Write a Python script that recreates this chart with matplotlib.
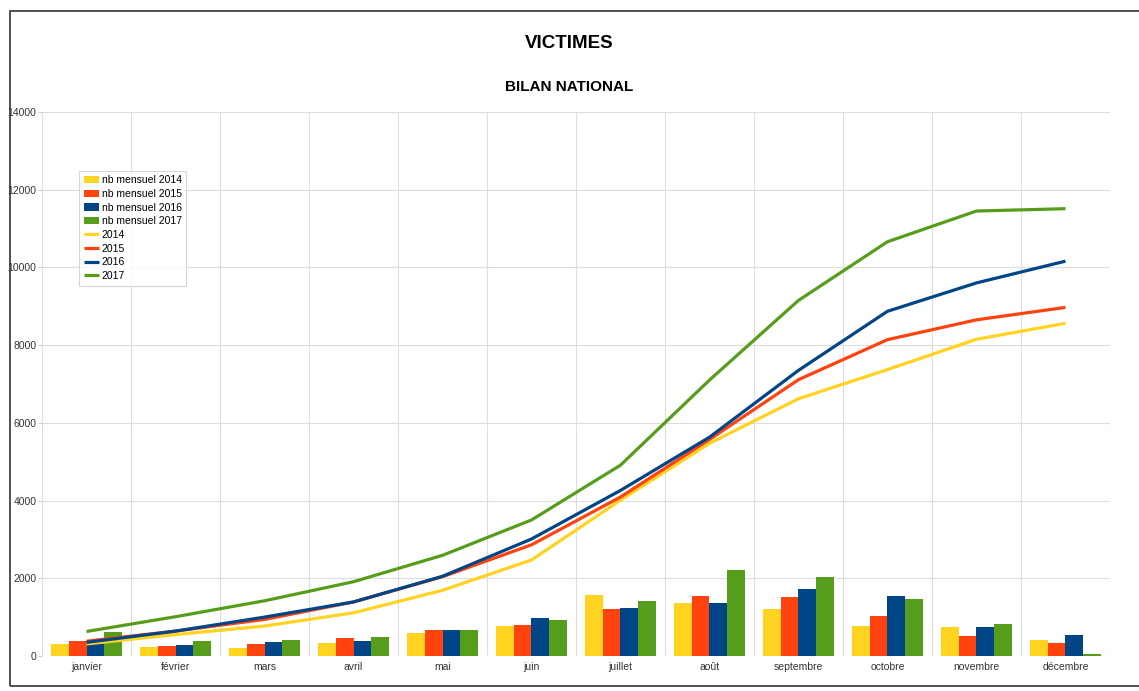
import numpy as np
import matplotlib.pyplot as plt
from matplotlib.patches import Rectangle

plt.rcParams['font.family'] = ['Liberation Sans', 'DejaVu Sans']

mois = ['janvier', 'février', 'mars', 'avril', 'mai', 'juin', 'juillet',
        'août', 'septembre', 'octobre', 'novembre', 'décembre']
annees = ['2014', '2015', '2016', '2017']

# nombre mensuel de victimes
m2014 = [310, 240, 215, 330, 585, 765, 1570, 1370, 1210, 780, 745, 410]
m2015 = [375, 255, 300, 455, 660, 805, 1200, 1540, 1510, 1030, 515, 325]
m2016 = [350, 290, 350, 395, 675, 970, 1225, 1370, 1715, 1535, 745, 550]
m2017 = [625, 385, 410, 480, 660, 925, 1420, 2200, 2040, 1475, 815, 50]

# cumul annuel
c2014 = [310, 550, 770, 1110, 1690, 2470, 4010, 5470, 6620, 7370, 8150, 8560]
c2015 = [380, 640, 940, 1390, 2040, 2860, 4090, 5570, 7110, 8140, 8650, 8970]
c2016 = [350, 640, 1000, 1390, 2050, 3010, 4260, 5630, 7350, 8870, 9600, 10160]
c2017 = [630, 1010, 1420, 1910, 2590, 3500, 4910, 7100, 9150, 10660, 11450, 11510]

couleurs = ['#FFD320', '#FF420E', '#004586', '#579D1C']
mensuels = [m2014, m2015, m2016, m2017]
cumuls = [c2014, c2015, c2016, c2017]

fig = plt.figure(figsize=(11.39, 6.91), dpi=100)
ax = fig.add_axes([0.0369, 0.0507, 0.9376, 0.7873])

x = np.arange(len(mois))
w = 0.2
bars = []
for i in range(4):
	b = ax.bar(x + (i - 1.5)*w, mensuels[i], width=w, color=couleurs[i],
	           label='nb mensuel ' + annees[i], zorder=2)
	bars.append(b)
lines = []
for i in range(4):
	l, = ax.plot(x, cumuls[i], color=couleurs[i], lw=2.3, label=annees[i],
	             zorder=3, solid_capstyle='butt')
	lines.append(l)

ax.set_xlim(-0.5, 11.5)
ax.set_ylim(0, 14000)
ax.set_yticks(np.arange(0, 14001, 2000))
ax.set_xticks(x)
ax.set_xticklabels(mois)
ax.set_xticks(np.arange(-0.5, 12, 1), minor=True)
ax.grid(True, axis='y', color='#dddddd', lw=0.8, zorder=0)
ax.grid(True, axis='x', which='minor', color='#dddddd', lw=0.8, zorder=0)
ax.tick_params(axis='x', which='both', length=0, labelsize=7.5, colors='#333333', pad=4)
ax.tick_params(axis='y', length=3, color='#cccccc', labelsize=7.5, labelcolor='#333333', pad=1)
for s in ax.spines.values():
	s.set_visible(False)

leg = ax.legend(handles=bars + lines, loc='upper left', bbox_to_anchor=(0.035, 0.892),
                fontsize=7.5, frameon=True, fancybox=False, edgecolor='#cccccc',
                handlelength=1.4, handleheight=0.7, labelspacing=0.35,
                borderpad=0.45, handletextpad=0.3, borderaxespad=0)
leg.get_frame().set_linewidth(0.8)

fig.text(0.5, 1 - 44/691, 'VICTIMES', ha='center', va='center',
         fontsize=13.5, fontweight='bold')
fig.text(0.5, 1 - 87/691, 'BILAN NATIONAL', ha='center', va='center',
         fontsize=11, fontweight='bold')

fig.patches.append(Rectangle((10/1139, 5/691), 1.1, 675/691, transform=fig.transFigure,
                             fill=False, edgecolor='#333333', lw=1.2))

plt.savefig('out.png', dpi=100)
